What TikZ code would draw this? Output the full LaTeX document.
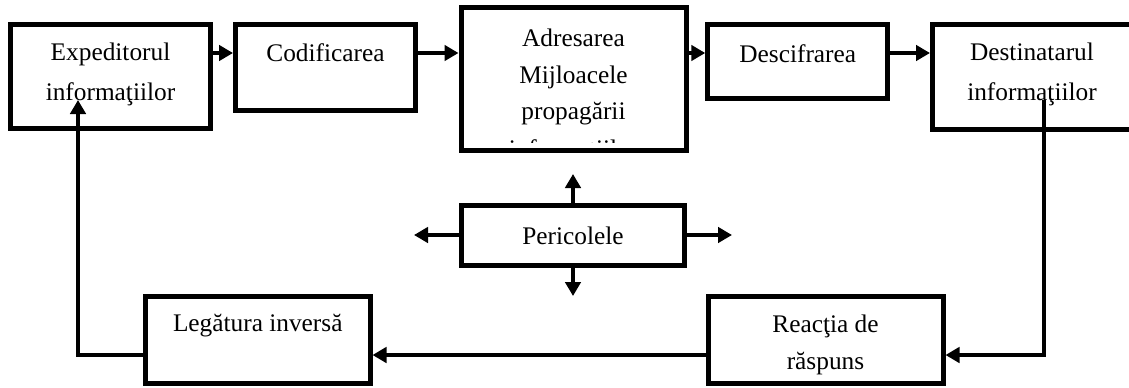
\documentclass[tikz,border=0pt]{standalone}
\usepackage{fontspec}
\setmainfont{Liberation Serif}
\usetikzlibrary{arrows.meta}
\begin{document}
\begin{tikzpicture}[x=0.75pt,y=-0.75pt,
  bx/.style={draw,line width=3.75pt,inner sep=0pt},
  txt/.style={align=center,inner sep=0pt,font=\fontsize{19}{30}\selectfont},
  arr/.style={line width=3pt,-{Triangle[length=10.5pt,width=11.5pt]}},
  ln/.style={line width=3pt}]
\useasboundingbox (0,0) rectangle (1129,387);
\clip (0,0) rectangle (1129,387);
% boxes
\node[bx,minimum width=150pt,minimum height=78pt] (exp) at (110.5,76.5) {};
\node[bx,minimum width=135pt,minimum height=64.5pt] (cod) at (325.5,67.5) {};
\node[bx,minimum width=168.75pt,minimum height=107.25pt] (adr) at (573.5,79) {};
\node[bx,minimum width=135pt,minimum height=55.5pt] (des) at (797.75,61.5) {};
\node[bx,minimum width=155.25pt,minimum height=78.75pt] (dst) at (1036,77) {};
\node[bx,minimum width=167.25pt,minimum height=45pt] (per) at (573,235.5) {};
\node[bx,minimum width=168.375pt,minimum height=65.25pt] (leg) at (257.75,339.5) {};
\node[bx,minimum width=176.25pt,minimum height=65.25pt] (rea) at (825.5,339.5) {};
% texts
\node[txt] (texp) at (110.5,74) {Expeditorul\\informaţiilor};
\node[txt] (tcod) at (325.5,53) {Codificarea};
\node[txt,font=\fontsize{19}{27.5}\selectfont] (tadr) at (573.5,77) {Adresarea\\Mijloacele\\propagării};
\begin{scope}
\clip (480,130) rectangle (680,142);
\node[txt] (tadr2) at (573.5,151) {informaţiilor};
\end{scope}
\node[txt] (tdes) at (797.75,54) {Descifrarea};
\node[txt] (tdst) at (1032,74) {Destinatarul\\informaţiilor};
\node[txt] (tper) at (573,236) {Pericolele};
\node[txt] (tleg) at (257.75,326) {Legătura inversă};
\node[txt,font=\fontsize{19}{27.75}\selectfont] (trea) at (825.5,345) {Reacţia de\\răspuns};
% helper coordinates
\coordinate (ytop) at (0,53);
\coordinate (yfb) at (0,355);
\coordinate (fbstart) at (1044,100);
\coordinate (fbend) at (78,100);
\coordinate (pu) at (573,174);
\coordinate (pd) at (573,296);
\coordinate (pl) at (414,235);
\coordinate (pr) at (732,235);
% top chain
\draw[arr] (exp.east |- ytop) -- (cod.west |- ytop);
\draw[arr] (cod.east |- ytop) -- (adr.west |- ytop);
\draw[arr] (adr.east |- ytop) -- (des.west |- ytop);
\draw[arr] (des.east |- ytop) -- (dst.west |- ytop);
% feedback loop
\draw[arr] (fbstart) |- (rea.east |- yfb);
\draw[arr] (rea.west |- yfb) -- (leg.east |- yfb);
\draw[arr] (leg.west |- yfb) -| (fbend);
% dangers
\draw[arr] (per.north) -- (pu);
\draw[arr] (per.south) -- (pd);
\draw[arr] (per.west |- pl) -- (pl);
\draw[arr] (per.east |- pr) -- (pr);
\end{tikzpicture}
\end{document}
